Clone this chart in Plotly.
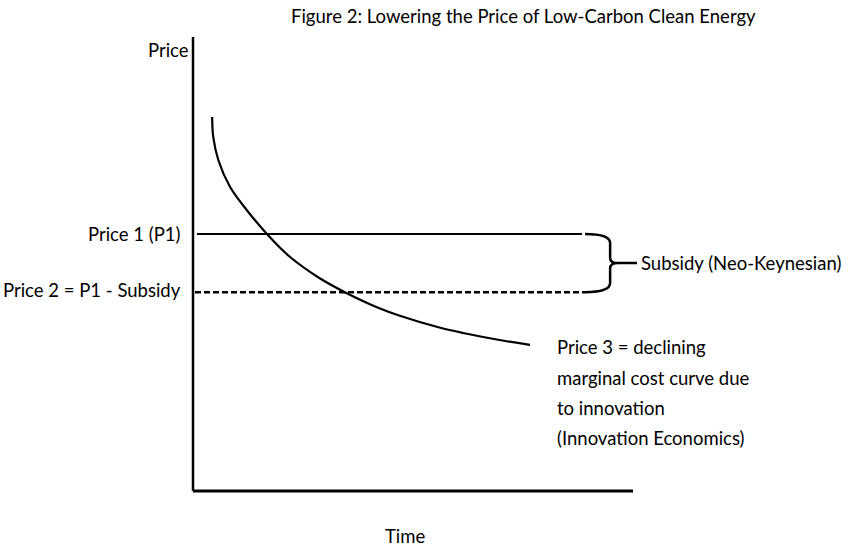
import plotly.graph_objects as go

# ---- data (diagram units: time 0-100 along the axis, price 0-100 up the axis) ----
curve_time = [4.35, 4.6, 5.75, 8.4, 12.2, 16.9, 22.0, 28.9, 34.5, 42.5, 47.0, 56.0, 61.4, 70.0, 76.6]
curve_price = [82.4, 78.0, 72.9, 67.0, 61.9, 56.5, 51.6, 46.8, 43.8, 40.2, 38.6, 36.0, 34.8, 33.2, 32.2]
price1 = 56.6          # Price 1 (P1)
price2 = 43.8          # Price 2 = P1 - Subsidy
p1_span = [0.9, 88.4]
p2_span = [0.45, 89.1]
axis_time_max = 100
axis_price_max = 100

title_text = "Figure 2: Lowering the Price of Low-Carbon Clean Energy"
label_p1 = "Price 1 (P1)"
label_p2 = "Price 2 = P1 - Subsidy"
label_subsidy = "Subsidy (Neo-Keynesian)"
label_p3_lines = ["Price 3 = declining", "marginal cost curve due",
                  "to innovation", "(Innovation Economics)"]
label_p3_y = [31.7, 24.9, 18.3, 11.7]

FONT = "Lato"
FS = 18.5

fig = go.Figure()

# axes drawn as lines
fig.add_trace(go.Scatter(x=[0, 0], y=[0, axis_price_max], mode="lines",
                         line=dict(color="black", width=2.5), hoverinfo="skip"))
fig.add_trace(go.Scatter(x=[0, axis_time_max], y=[0, 0], mode="lines",
                         line=dict(color="black", width=3), hoverinfo="skip"))
# Price 1 line
fig.add_trace(go.Scatter(x=p1_span, y=[price1, price1], mode="lines",
                         line=dict(color="black", width=2), hoverinfo="skip"))
# Price 2 dashed line
fig.add_trace(go.Scatter(x=p2_span, y=[price2, price2], mode="lines",
                         line=dict(color="black", width=2.5, dash="6px,3px"), hoverinfo="skip"))
# declining marginal cost curve
fig.add_trace(go.Scatter(x=curve_time, y=curve_price, mode="lines",
                         line=dict(color="black", width=2.2, shape="spline", smoothing=1.0),
                         hoverinfo="skip"))

# brace between P1 and P2
bx0, bx1, bx2, bx3 = 89.1, 94.8, 96.6, 100.9
mid = (price1 + price2) / 2
path = (f"M {bx0},{price1} Q {bx1},{price1} {bx1},{price1-2} L {bx1},{mid+1.2} "
        f"Q {bx1},{mid} {bx2},{mid} Q {bx1},{mid} {bx1},{mid-1.2} "
        f"L {bx1},{price2+2} Q {bx1},{price2} {bx0},{price2} "
        f"M {bx2},{mid} L {bx3},{mid}")
fig.add_shape(type="path", path=path, xref="x", yref="y",
              line=dict(color="black", width=2.5))

ann = dict(showarrow=False, font=dict(family=FONT, size=FS, color="black"))
fig.add_annotation(x=-2.3, y=price1, xref="x", yref="y", text=label_p1,
                   xanchor="right", yanchor="middle", **ann)
fig.add_annotation(x=-2.3, y=price2 + 0.4, xref="x", yref="y", text=label_p2,
                   xanchor="right", yanchor="middle", **ann)
fig.add_annotation(x=-0.5, y=97.1, xref="x", yref="y", text="Price",
                   xanchor="right", yanchor="middle", **ann)
fig.add_annotation(x=bx3 + 0.5, y=mid, xref="x", yref="y", text=label_subsidy,
                   xanchor="left", yanchor="middle", **ann)
for txt, yy in zip(label_p3_lines, label_p3_y):
    fig.add_annotation(x=82.3, y=yy, xref="x", yref="y", text=txt,
                       xanchor="left", yanchor="middle", **ann)
fig.add_annotation(x=48.2, y=-9.9, xref="x", yref="y", text="Time",
                   xanchor="center", yanchor="middle", **ann)
fig.add_annotation(x=75.2, y=104.6, xref="x", yref="y", text=title_text,
                   xanchor="center", yanchor="middle", **ann)

fig.update_layout(
    width=848, height=546,
    margin=dict(l=0, r=0, t=0, b=0),
    paper_bgcolor="white", plot_bgcolor="white",
    showlegend=False,
    xaxis=dict(range=[-193 / 4.4, 655 / 4.4], visible=False, fixedrange=True),
    yaxis=dict(range=[-55 / 4.54, 491 / 4.54], visible=False, fixedrange=True),
)
fig.write_html(
    "out.html",
    config={"displayModeBar": False},
    post_script="document.body.style.margin='0';document.body.style.overflow='hidden';",
)
